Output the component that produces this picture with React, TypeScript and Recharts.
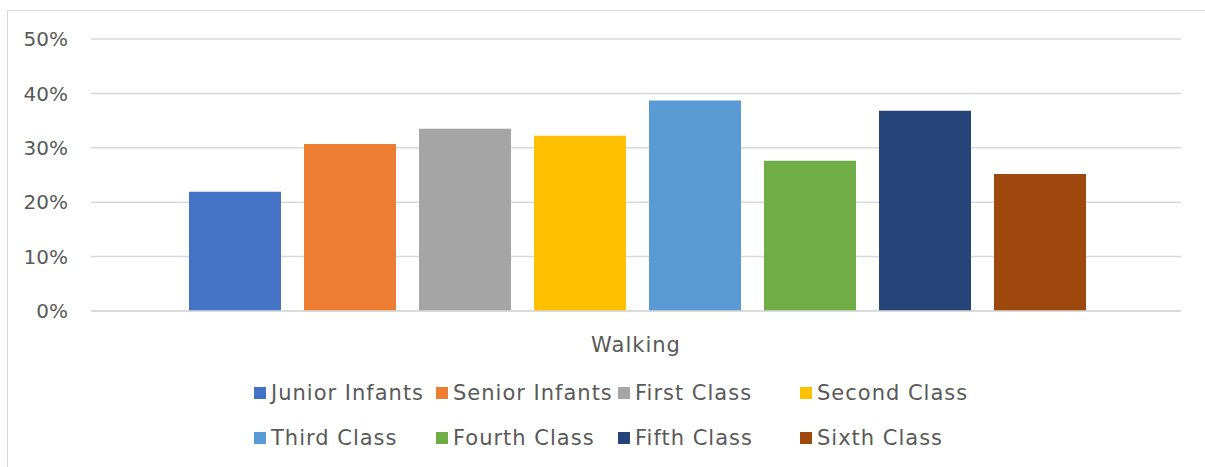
import { BarChart, Bar, XAxis, YAxis, CartesianGrid, Legend } from 'recharts';

const categories = ['Walking'];
const seriesNames = [
  'Junior Infants',
  'Senior Infants',
  'First Class',
  'Second Class',
  'Third Class',
  'Fourth Class',
  'Fifth Class',
  'Sixth Class',
];
const walkingValues = [0.219, 0.307, 0.335, 0.322, 0.387, 0.276, 0.368, 0.252];
const yTicks = [0, 0.1, 0.2, 0.3, 0.4, 0.5];
const COLORS = ['#4472C4', '#ED7D31', '#A5A5A5', '#FFC000', '#5B9BD5', '#70AD47', '#264478', '#9E480E'];

const FONT = '"DejaVu Sans", sans-serif';
const TEXT = '#595959';

const data = categories.map((name) => {
  const row: Record<string, string | number> = { name };
  seriesNames.forEach((s, i) => {
    row[s] = walkingValues[i];
  });
  return row;
});

function renderLegend(props: any) {
  const payload = [...(props.payload || [])].sort(
    (a: any, b: any) => seriesNames.indexOf(a.value) - seriesNames.indexOf(b.value)
  );
  return (
    <div
      style={{
        display: 'grid',
        gridTemplateColumns: 'repeat(4, 182px)',
        rowGap: 19,
        paddingLeft: 254,
        fontFamily: FONT,
        fontSize: 21,
        letterSpacing: 1,
        color: TEXT,
      }}
    >
      {payload.map((entry: any) => (
        <div key={entry.value} style={{ display: 'flex', alignItems: 'center', height: 26, whiteSpace: 'nowrap' }}>
          <span style={{ width: 12, height: 12, background: entry.color, marginRight: 5, display: 'inline-block' }} />
          {entry.value}
        </div>
      ))}
    </div>
  );
}

export default function App() {
  return (
    <div style={{ position: 'fixed', left: 0, top: 0, width: 1205, height: 467, overflow: 'hidden', background: '#fff' }}>
      <div
        style={{
          position: 'absolute',
          left: 7,
          top: 10,
          width: 1300,
          height: 600,
          border: '1px solid #d9d9d9',
          boxSizing: 'border-box',
        }}
      />
      <div style={{ position: 'absolute', left: 0, top: 0 }}>
        <BarChart
          width={1205}
          height={467}
          data={data}
          margin={{ top: 39, right: 24, left: 0, bottom: 126 }}
          barCategoryGap={98}
          barGap={23}
        >
          <CartesianGrid vertical={false} stroke="#d9d9d9" strokeWidth={1.5} />
          <XAxis
            dataKey="name"
            height={30}
            tickLine={false}
            axisLine={{ stroke: '#d9d9d9', strokeWidth: 1.5 }}
            tickSize={0}
            tickMargin={26}
            tick={{ fill: TEXT, fontSize: 21, fontFamily: FONT, letterSpacing: 1 }}
          />
          <YAxis
            width={91}
            domain={[0, 0.5]}
            ticks={yTicks}
            tickFormatter={(v: number) => `${Math.round(v * 100)}%`}
            tickLine={false}
            axisLine={false}
            tickSize={0}
            tickMargin={23}
            tick={{ fill: TEXT, fontSize: 20, fontFamily: FONT }}
          />
          <Legend
            layout="horizontal"
            verticalAlign="middle"
            align="center"
            wrapperStyle={{ top: 380, left: 0, width: 1205 }}
            content={renderLegend}
          />
          {seriesNames.map((s, i) => (
            <Bar key={s} dataKey={s} fill={COLORS[i]} isAnimationActive={false} />
          ))}
        </BarChart>
      </div>
    </div>
  );
}
